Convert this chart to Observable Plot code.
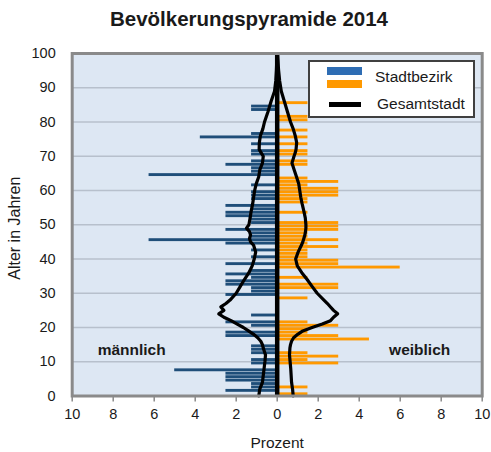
<!DOCTYPE html>
<html>
<head>
<meta charset="utf-8">
<script src="https://cdn.jsdelivr.net/npm/d3@7"></script>
<script src="https://cdn.jsdelivr.net/npm/@observablehq/plot@0.6"></script>
<style>
  body { margin: 0; background: #ffffff; font-family: "Liberation Sans", Arial, sans-serif; }
  #wrap { position: relative; width: 491px; height: 452px; overflow: hidden; }
  #title { position: absolute; left: 0; top: 9px; width: 498px; text-align: center;
           font-weight: bold; font-size: 20.5px; line-height: 20.5px; color: #1a1a1a; }
  #chart { position: absolute; left: 0; top: 40px; }
  #legend { position: absolute; left: 308px; top: 60px; width: 163px; height: 54px;
            background: #ffffff; border: 2px solid #404040; }
  .sw { position: absolute; left: 17px; width: 35px; }
  .lt { position: absolute; font-size: 15.5px; line-height: 16px; color: #1a1a1a; white-space: nowrap; }
</style>
</head>
<body>
<div id="wrap">
  <div id="title">Bevölkerungspyramide 2014</div>
  <div id="chart"></div>
  <div id="legend">
    <div class="sw" style="top:5px;height:8px;background:#2e6db4"></div>
    <div class="sw" style="top:18px;height:8px;background:#ff9900"></div>
    <div class="lt" style="left:65px;top:7px">Stadtbezirk</div>
    <div class="sw" style="left:19px;top:40px;height:5px;width:32px;background:#000"></div>
    <div class="lt" style="left:67px;top:34px">Gesamtstadt</div>
  </div>
</div>
<script>
// Stadtbezirk, share per single year of age (index = age 0..99), percent
const maleBezirk = [
  0, 2.5, 1.25, 1.25, 2.5, 2.5, 2.5, 5, 0, 1.25,
  1.25, 0, 1.25, 1.25, 1.25, 0, 0, 2.5, 2.5, 0,
  1.25, 2.5, 0, 1.25, 0, 0, 0, 0, 0, 2.5,
  1.25, 1.25, 2.5, 2.5, 1.25, 2.5, 1.25, 0, 2.5, 0,
  1.25, 0, 1.25, 0, 2.5, 6.25, 1.25, 1.25, 2.5, 0,
  1.25, 1.25, 2.5, 2.5, 1.25, 2.5, 0, 1.25, 1.25, 1.25,
  0, 1.25, 0, 0, 6.25, 1.25, 1.25, 2.5, 1.25, 0,
  1.25, 1.25, 0, 1.25, 0, 3.75, 1.25, 0, 0, 0,
  0, 0, 0, 1.25, 1.25, 0, 0, 0, 0, 0,
  0, 0, 0, 0, 0, 0, 0, 0, 0, 0
];
const femaleBezirk = [
  1.5, 0, 1.5, 0, 0, 0, 0, 0, 0, 3,
  1.5, 3, 1.5, 0, 0, 0, 4.5, 3, 1.5, 1.5,
  3, 1.5, 0, 0, 0, 0, 0, 0, 1.5, 0,
  0, 3, 3, 0, 1.5, 0, 0, 6, 3, 3,
  1.5, 1.5, 1.5, 3, 1.5, 3, 1.5, 1.5, 3, 3,
  3, 0, 0, 1.5, 0, 0, 1.5, 1.5, 3, 3,
  3, 1.5, 3, 1.5, 0, 0, 0, 1.5, 1.5, 0,
  1.5, 1.5, 0, 1.5, 0, 1.5, 0, 1.5, 0, 0,
  1.5, 1.5, 0, 0, 0, 1.5, 0, 0, 0, 0,
  0, 0, 0, 0, 0, 0, 0, 0, 0, 0
];
// Gesamtstadt outline (read points: age, percent)
const lineAges = [0, 2, 4, 6, 8, 10, 12, 14, 15, 16, 17, 18, 19, 20, 21, 22, 23, 24, 25, 26, 27, 28, 30, 32, 34, 36, 38, 40, 42, 44, 45, 46, 47, 48, 49, 50, 52, 54, 56, 58, 60, 62, 64, 66, 68, 70, 71, 72, 74, 76, 78, 80, 83, 86, 89, 92, 95, 98, 100];
const maleGesamt = [0.9, 0.85, 0.72, 0.68, 0.64, 0.6, 0.57, 0.68, 0.72, 0.8, 0.95, 1.15, 1.4, 1.65, 1.95, 2.25, 2.6, 2.85, 2.6, 2.75, 2.5, 2.3, 2.0, 1.8, 1.6, 1.38, 1.22, 1.12, 1.05, 1.15, 1.3, 1.35, 1.3, 1.35, 1.5, 1.38, 1.32, 1.27, 1.2, 1.15, 1.1, 1.02, 0.9, 0.85, 0.72, 0.68, 0.78, 0.88, 0.87, 0.82, 0.7, 0.62, 0.45, 0.3, 0.13, 0.07, 0.04, 0.02, 0];
const femaleGesamt = [0.78, 0.75, 0.7, 0.68, 0.66, 0.63, 0.6, 0.62, 0.65, 0.7, 0.8, 1.0, 1.25, 1.7, 2.2, 2.6, 2.75, 2.95, 2.75, 2.6, 2.45, 2.28, 1.95, 1.7, 1.46, 1.2, 0.98, 0.9, 1.02, 1.18, 1.25, 1.3, 1.35, 1.38, 1.4, 1.4, 1.37, 1.3, 1.22, 1.15, 1.1, 1.05, 0.94, 0.83, 0.72, 0.82, 0.88, 0.92, 0.95, 0.88, 0.78, 0.65, 0.5, 0.35, 0.2, 0.12, 0.07, 0.03, 0];
const yTicks = [0, 10, 20, 30, 40, 50, 60, 70, 80, 90, 100];
const xTicks = [-10, -8, -6, -4, -2, 0, 2, 4, 6, 8, 10];
const sideLabels = ["männlich", "weiblich"];

const maleRows = maleBezirk.map((v, age) => ({age, v})).filter(d => d.v > 0);
const femaleRows = femaleBezirk.map((v, age) => ({age, v})).filter(d => d.v > 0);
const maleLine = lineAges.map((age, i) => ({age, v: maleGesamt[i]}));
const femaleLine = lineAges.map((age, i) => ({age, v: femaleGesamt[i]}));
const sideRows = [{x: -7.1, y: 13.3, t: sideLabels[0]}, {x: 6.95, y: 13.3, t: sideLabels[1]}];

const font = '"Liberation Sans", Arial, sans-serif';
const chart = Plot.plot({
  width: 491, height: 412,
  marginLeft: 71.7, marginRight: 9.3, marginTop: 13, marginBottom: 56.5,
  x: {domain: [-10, 10]},
  y: {domain: [0, 100]},
  style: {fontFamily: font, fontSize: "14.5px", color: "#1a1a1a", background: "#ffffff", overflow: "visible"},
  marks: [
    Plot.frame({fill: "#dde7f3", stroke: null}),
    Plot.ruleY(yTicks.filter(t => t > 0 && t < 100), {stroke: "#b7c0cc", strokeWidth: 1.3}),
    Plot.rect(maleRows, {x1: 0, x2: d => -d.v, y1: d => d.age + 0.08, y2: d => d.age + 0.92, fill: "#1f4e79"}),
    Plot.rect(femaleRows, {x1: 0, x2: d => d.v, y1: d => d.age + 0.08, y2: d => d.age + 0.92, fill: "#ff9900"}),
    Plot.line(maleLine, {x: d => -d.v, y: "age", stroke: "#000", strokeWidth: 3.2, strokeLinejoin: "round"}),
    Plot.line(femaleLine, {x: "v", y: "age", stroke: "#000", strokeWidth: 3.2, strokeLinejoin: "round"}),
    Plot.ruleX([0], {stroke: "#000", strokeWidth: 4.5}),
    Plot.frame({stroke: "#8a8a8a", strokeWidth: 3}),
    Plot.axisY({ticks: yTicks, tickSize: 0, tickPadding: 16.5, label: null, fontSize: 14.5}),
    Plot.axisX({ticks: xTicks, tickSize: 6, tickPadding: 7, tickFormat: d => Math.abs(d), label: null, stroke: "#8a8a8a", strokeWidth: 1.5, fontSize: 14.5}),
    Plot.text(["Prozent"], {x: 0, y: 0, dy: 47.5, fontSize: 15.5}),
    Plot.text(["Alter in Jahren"], {x: -10, y: 49, dx: -57, rotate: -90, fontSize: 16}),
    Plot.text(sideRows, {x: "x", y: "y", text: "t", fontWeight: "bold", fontSize: 15.5})
  ]
});
document.getElementById("chart").appendChild(chart);
</script>
</body>
</html>
